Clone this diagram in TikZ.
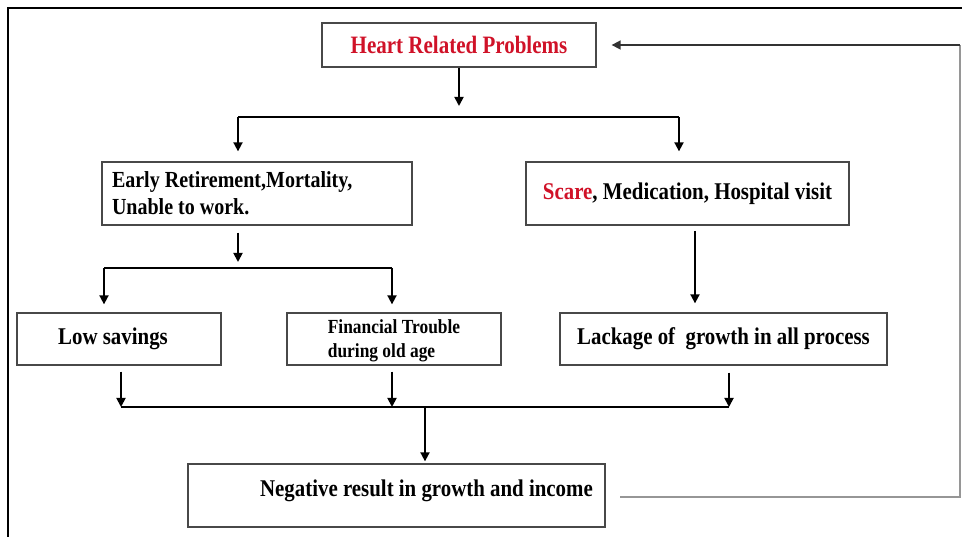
\documentclass[tikz,border=0pt]{standalone}
\usepackage{fontspec}
\setmainfont{Liberation Serif}[FakeStretch=0.87]
\newfontfamily\heartfont{Liberation Serif}[FakeStretch=0.84]
\usetikzlibrary{arrows.meta}
\definecolor{hred}{RGB}{208,18,40}
\definecolor{boxline}{RGB}{72,72,72}
\definecolor{fbgray}{RGB}{150,150,150}
\begin{document}
\begin{tikzpicture}[x=1pt,y=-1pt,
  box/.style={draw=boxline, line width=1.3pt, inner sep=0pt, fill=white,
    font=\fontsize{24}{28}\selectfont\bfseries},
  arr/.style={draw=black, line width=1.8pt, -{Triangle[length=9pt,width=9pt]}},
  ln/.style={draw=black, line width=1.4pt},
  fbline/.style={draw=fbgray, line width=1.3pt},
  fbarr/.style={draw=black!80, line width=1.6pt, -{Triangle[length=9pt,width=9pt]}}
]
\useasboundingbox (0,0) rectangle (962,537);
% outer frame
\draw[line width=2pt, black] (962,8) -- (8,8) -- (8,537);

% boxes
\node[box, minimum width=274pt, minimum height=44pt] (heart) at (459,45)
  {\heartfont\fontsize{25}{30}\selectfont\color{hred}Heart Related Problems};
\node[box, minimum width=310pt, minimum height=63pt, text width=290pt, align=flush left,
  font=\fontsize{23}{27}\selectfont\bfseries] (early) at (257,193.5)
  {Early Retirement,Mortality,\\Unable to work.};
\node[box, minimum width=323pt, minimum height=63pt] (scare) at (687.5,193.5)
  {{\color{hred}Scare}, Medication, Hospital visit};
\node[box, minimum width=204pt, minimum height=52pt] (low) at (119,339)
  {Low savings\hspace*{12pt}};
\node[box, minimum width=214pt, minimum height=52pt, align=left,
  text depth=0pt, font=\fontsize{20}{24}\selectfont\bfseries] (fin) at (394,339)
  {Financial Trouble\\during old age};
\node[box, minimum width=327pt, minimum height=52pt] (lack) at (723.5,339)
  {Lackage of\ \ growth in all process};
\node[box, minimum width=417pt, minimum height=63pt, text height=17pt, text depth=15pt] (neg) at (396.5,495.5)
  {\hspace*{60pt}Negative result in growth and income};

% connectors
\coordinate (j1) at (459,106);
\coordinate (b1L) at (238,117);
\coordinate (b1R) at (679,117);
\draw[arr] (heart.south) -- (j1);
\draw[ln] (b1L) -- (b1R);
\draw[arr] (b1L) -- ([yshift=10pt]b1L |- early.north);
\draw[arr] (b1R) -- ([yshift=10pt]b1R |- scare.north);

\coordinate (e1) at (238,262);
\draw[arr, shorten <=7pt] (early.south -| e1) -- (e1);
\coordinate (b2L) at (104,268);
\coordinate (b2R) at (392,268);
\draw[ln] (b2L) -- (b2R);
\draw[arr] (b2L) -- ([yshift=8pt]b2L |- low.north);
\draw[arr] (b2R) -- ([yshift=8pt]b2R |- fin.north);

\coordinate (s1) at (695,231);
\draw[arr] (s1) -- ([yshift=9pt]s1 |- lack.north);

\coordinate (c1) at (121,407);
\coordinate (c2) at (392,407);
\coordinate (c3) at (729,407);
\draw[arr, shorten <=6pt] (low.south -| c1) -- (c1);
\draw[arr, shorten <=6pt] (fin.south -| c2) -- (c2);
\draw[arr, shorten <=7pt] (lack.south -| c3) -- (c3);
\draw[ln] (c1) -- (c3);
\coordinate (d1) at (425,407);
\draw[arr] (d1) -- ([yshift=2pt]d1 |- neg.north);

% feedback loop
\coordinate (fbA) at (620,497);
\coordinate (fbB) at (960,497);
\coordinate (fbC) at (960,45);
\draw[fbline] (fbA) -- (fbB) -- (fbC);
\draw[fbarr, shorten >=15pt] (fbC) -- (heart.east);
\end{tikzpicture}
\end{document}
